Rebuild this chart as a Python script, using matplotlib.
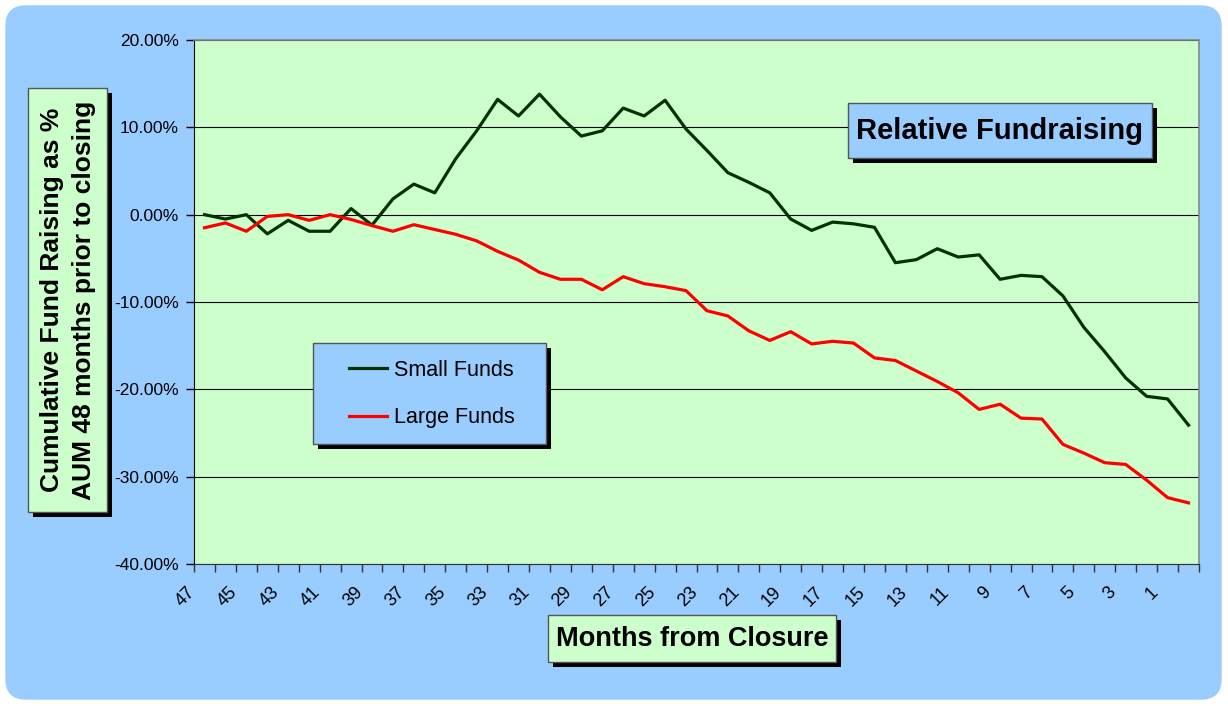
import numpy as np
import matplotlib
matplotlib.use("Agg")
import matplotlib.pyplot as plt
from matplotlib.patches import FancyBboxPatch, Rectangle
import matplotlib.transforms as mtransforms
from matplotlib.ticker import FuncFormatter, FixedLocator

plt.rcParams['font.family'] = ['Liberation Sans', 'DejaVu Sans']

# Dane (miesiace od zamkniecia 47 -> 0)
months = list(range(47, -1, -1))
small_funds = [0.0, -0.5, 0.0, -2.2, -0.65, -1.9, -1.9, 0.7, -1.2, 1.8,
               3.5, 2.5, 6.4, 9.6, 13.2, 11.3, 13.8, 11.2, 9.0, 9.6,
               12.2, 11.3, 13.1, 9.8, 7.35, 4.8, 3.7, 2.5, -0.5, -1.8,
               -0.85, -1.05, -1.45, -5.5, -5.15, -3.9, -4.85, -4.6, -7.4, -6.95,
               -7.1, -9.3, -12.9, -15.7, -18.7, -20.8, -21.1, -24.1]
large_funds = [-1.5, -0.95, -1.9, -0.2, 0.0, -0.65, 0.0, -0.55, -1.25, -1.9,
               -1.15, -1.7, -2.25, -3.0, -4.2, -5.2, -6.6, -7.4, -7.4, -8.6,
               -7.1, -7.9, -8.25, -8.7, -11.0, -11.6, -13.3, -14.4, -13.4, -14.8,
               -14.5, -14.7, -16.4, -16.7, -17.9, -19.1, -20.4, -22.3, -21.7, -23.3,
               -23.4, -26.3, -27.3, -28.4, -28.6, -30.4, -32.4, -33.0]
y_ticks = [20, 10, 0, -10, -20, -30, -40]

W, H = 1228, 706
fig = plt.figure(figsize=(W / 100, H / 100), dpi=100)
fig.patch.set_facecolor('white')

def px(x, y):
    # piksele obrazu -> cale (od dolu)
    return x / 100, (H - y) / 100

def shadow_box(x0, y0, x1, y1, face, off=5):
    # prostokat z czarnym cieniem
    sx, sy = px(x0 + off, y1 + off)
    fig.patches.append(Rectangle((sx, sy), (x1 - x0) / 100, (y1 - y0) / 100,
                                 transform=fig.dpi_scale_trans, facecolor='black',
                                 edgecolor='none', zorder=2))
    bx, by = px(x0, y1)
    fig.patches.append(Rectangle((bx, by), (x1 - x0) / 100, (y1 - y0) / 100,
                                 transform=fig.dpi_scale_trans, facecolor=face,
                                 edgecolor='#555555', linewidth=1.0, zorder=2.1))

# Tlo - zaokraglony niebieski prostokat
bx, by = px(6, 699)
fig.patches.append(FancyBboxPatch((bx, by), (1221 - 6) / 100, (699 - 6) / 100,
                                  boxstyle='round,pad=0,rounding_size=0.2',
                                  transform=fig.dpi_scale_trans,
                                  facecolor='#99CCFF', edgecolor='#99CCFF', zorder=-5))

ax = fig.add_axes([194 / W, 1 - 564 / H, (1199 - 194) / W, (564 - 40) / H])
ax.set_facecolor('#CCFFCC')

x = np.arange(len(months))
ax.plot(x, small_funds, color='#003300', linewidth=2.3, label='Small Funds', zorder=3)
ax.plot(x, large_funds, color='#FF0000', linewidth=2.3, label='Large Funds', zorder=3)

ax.set_xlim(-0.5, len(months) - 0.5)
ax.set_ylim(-40, 20)
ax.set_yticks(y_ticks)
ax.yaxis.set_major_formatter(FuncFormatter(lambda v, p: f'{v:.2f}%'))
ax.yaxis.grid(True, color='black', linewidth=0.8)
ax.set_axisbelow(True)
ax.tick_params(axis='y', direction='out', length=6, width=1, pad=5, labelsize=12.5)

# Os X - kreski na granicach kategorii, etykiety co druga
ax.xaxis.set_minor_locator(FixedLocator(np.arange(-0.5, len(months), 1.0)))
lab_pos = [i for i, m in enumerate(months) if m % 2 == 1]
ax.set_xticks(lab_pos)
ax.set_xticklabels([str(months[i]) for i in lab_pos], rotation=45, ha='right', va='top')
ax.tick_params(axis='x', which='major', length=0, pad=14, labelsize=13)
ax.tick_params(axis='x', which='minor', direction='out', length=6, width=1, color='#333333')
shift = mtransforms.ScaledTranslation(-6 / 100, 0, fig.dpi_scale_trans)
for lbl in ax.get_xticklabels():
    lbl.set_transform(lbl.get_transform() + shift)

for s in ['top', 'right']:
    ax.spines[s].set_color('#888888')
    ax.spines[s].set_linewidth(1.2)
ax.spines['left'].set_color('black')
ax.spines['bottom'].set_color('#333333')

# Tytul
shadow_box(848, 103, 1152, 158, '#99CCFF')
tx, ty = px(1000, 131)
fig.text(tx / (W / 100), ty / (H / 100), 'Relative Fundraising', fontsize=21,
         fontweight='bold', ha='center', va='center', zorder=3)

# Opis osi Y
shadow_box(28, 88, 107, 512, '#CCFFCC')
tx, ty = px(68, 300)
fig.text(tx / (W / 100), ty / (H / 100),
         'Cumulative Fund Raising as %\nAUM 48 months prior to closing',
         fontsize=19, fontweight='bold', rotation=90, ha='center', va='center',
         linespacing=1.45, zorder=3)

# Opis osi X
shadow_box(548, 615, 836, 662, '#CCFFCC')
tx, ty = px(692, 639)
fig.text(tx / (W / 100), ty / (H / 100), 'Months from Closure', fontsize=19.5,
         fontweight='bold', ha='center', va='center', zorder=3)

# Legenda
shadow_box(313, 343, 546, 444, '#99CCFF')
lx, ly = px(330, 394)
leg = ax.legend(loc='center left', bbox_to_anchor=(lx / (W / 100), ly / (H / 100)),
                bbox_transform=fig.transFigure, frameon=False, fontsize=15.5,
                handlelength=1.75, handletextpad=0.3, labelspacing=1.25)
leg.set_zorder(4)
leg.remove()
fig.add_artist(leg)

fig.savefig('out.png', dpi=100)
